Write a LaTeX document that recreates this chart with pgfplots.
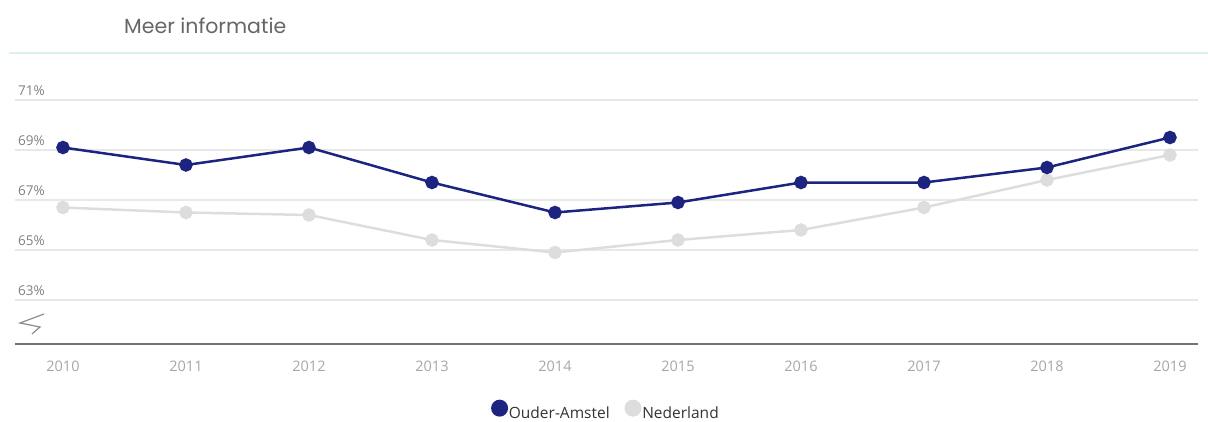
\documentclass[border=0pt]{standalone}
\usepackage{fontspec}
\setmainfont{Open Sans}
\newfontfamily\titlefont{Poppins}
\usepackage{pgfplots}
\pgfplotsset{compat=1.18}
\definecolor{oa}{RGB}{28,36,128}
\definecolor{nl}{RGB}{221,221,221}
\definecolor{gridc}{RGB}{232,232,232}
\definecolor{tealline}{RGB}{218,240,238}
\definecolor{axisc}{RGB}{115,115,115}
\begin{document}
\begin{tikzpicture}[x=1pt,y=1pt]
\draw[tealline, line width=2pt] (9,368) -- (1208,368);
\node[anchor=base west, inner sep=0pt, font=\titlefont\fontsize{20.5}{24}\selectfont, text=black!60] at (124,387) {Meer informatie};
\begin{axis}[
  at={(15pt,77pt)}, anchor=south west,
  scale only axis, width=1183pt, height=244pt,
  xmin=-0.39, xmax=9.228, ymin=61.24, ymax=71,
  axis line style={draw=none},
  xtick={0,1,2,3,4,5,6,7,8,9},
  xticklabels={2010,2011,2012,2013,2014,2015,2016,2017,2018,2019},
  ytick={63,65,67,69,71},
  yticklabels={63\%,65\%,67\%,69\%,71\%},
  ymajorgrids, grid style={gridc, line width=1.3pt},
  major tick length=0pt,
  yticklabel style={anchor=south west, inner sep=0pt, xshift=3pt, yshift=4pt, font=\fontsize{13.5}{16}\selectfont, text=black!50},
  xticklabel style={anchor=base, inner sep=0pt, yshift=-27pt, font=\fontsize{14.5}{17}\selectfont, text=black!35},
  clip=false,
  legend style={at={(0.499,-0.272)}, anchor=center, draw=none, fill=none,
    font=\fontsize{15.5}{18}\selectfont, text=black!80,
    /tikz/every even column/.append style={column sep=14pt},
    nodes={inner sep=0.8pt}},
  legend columns=2, legend cell align=left,
  legend image code/.code={\fill[draw=none,#1] (8.5pt,5.5pt) circle (8.5pt);},
]
\draw[axisc, line width=1.5pt] (rel axis cs:0,0) -- (rel axis cs:1,0);
\addplot[nl, line width=2.5pt, mark=*, mark size=5.5pt, forget plot] coordinates {
(0,66.7) (1,66.5) (2,66.4) (3,65.4) (4,64.9) (5,65.4) (6,65.8) (7,66.7) (8,67.8) (9,68.8)};
\addplot[oa, line width=2.5pt, mark=*, mark size=5.5pt, forget plot] coordinates {
(0,69.1) (1,68.4) (2,69.1) (3,67.7) (4,66.5) (5,66.9) (6,67.7) (7,67.7) (8,68.3) (9,69.5)};
\addlegendimage{fill=oa, draw=none}
\addlegendentry{Ouder-Amstel}
\addlegendimage{fill=nl, draw=none}
\addlegendentry{Nederland}
\end{axis}
\draw[black!45, line width=1.2pt] (44,107) -- (20,98) -- (40,94) -- (32,87);
\pgfresetboundingbox
\useasboundingbox (0,0) rectangle (1208,421);
\end{tikzpicture}
\end{document}
